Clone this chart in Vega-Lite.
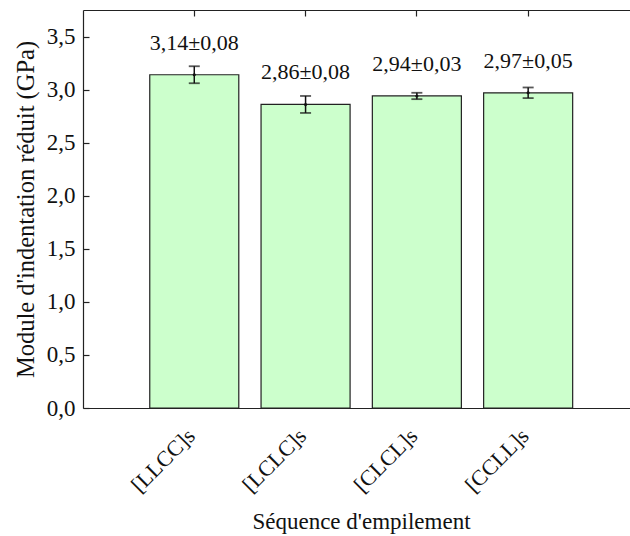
{
  "$schema": "https://vega.github.io/schema/vega-lite/v6.json",
  "autosize": {"type": "none"},
  "padding": {"left": 83, "top": 10, "right": 0, "bottom": 128},
  "width": 547,
  "height": 398,
  "config": {
    "font": "Liberation Serif",
    "view": {"stroke": null},
    "axis": {"domainColor": "#222", "tickColor": "#222", "labelColor": "#111", "titleColor": "#111", "grid": false, "titleFontWeight": "normal", "domainWidth": 1.2, "tickWidth": 1.2, "labelFont": "Liberation Serif", "titleFont": "Liberation Serif"}
  },
  "resolve": {"axis": {"x": "independent", "y": "independent"}},
  "data": {
    "values": [
      {"seq": "[LLCC]s", "val": 3.14, "lo": 3.06, "hi": 3.22, "lbl": "3,14±0,08"},
      {"seq": "[LCLC]s", "val": 2.86, "lo": 2.78, "hi": 2.94, "lbl": "2,86±0,08"},
      {"seq": "[CLCL]s", "val": 2.94, "lo": 2.91, "hi": 2.97, "lbl": "2,94±0,03"},
      {"seq": "[CCLL]s", "val": 2.97, "lo": 2.92, "hi": 3.02, "lbl": "2,97±0,05"}
    ]
  },
  "layer": [
    {
      "mark": {"type": "bar", "fill": "#ccffcc", "stroke": "#222", "strokeWidth": 1.2},
      "encoding": {
        "x": {
          "field": "seq", "type": "nominal", "sort": null,
          "scale": {"paddingInner": 0.2, "paddingOuter": 0.5575, "align": 0.538},
          "axis": {
            "orient": "bottom",
            "title": "Séquence d'empilement", "titleFontSize": 23, "titleX": 278, "titleY": 120, "titleBaseline": "alphabetic", "titleAnchor": null,
            "labelAngle": -45, "labelAlign": "right", "labelBaseline": "middle", "labelFontSize": 22, "labelPadding": 24, "labelOffset": -3,
            "ticks": false
          }
        },
        "y": {
          "field": "val", "type": "quantitative",
          "scale": {"domain": [0, 3.75], "nice": false, "zero": true},
          "axis": {
            "orient": "left",
            "title": "Module d'indentation réduit (GPa)", "titleFontSize": 24.5, "titlePadding": 8,
            "values": [0, 0.5, 1, 1.5, 2, 2.5, 3, 3.5],
            "labelExpr": "replace(format(datum.value, '.1f'), '.', ',')",
            "labelFontSize": 23, "ticks": false, "labelPadding": 8
          }
        }
      }
    },
    {
      "mark": {"type": "rule", "color": "#111", "strokeWidth": 1.5},
      "encoding": {
        "x": {"field": "seq", "type": "nominal", "sort": null, "axis": null},
        "y": {"field": "lo", "type": "quantitative", "axis": null},
        "y2": {"field": "hi"}
      }
    },
    {
      "mark": {"type": "tick", "color": "#111", "size": 11, "thickness": 1.8},
      "encoding": {
        "x": {"field": "seq", "type": "nominal", "sort": null, "axis": null},
        "y": {"field": "lo", "type": "quantitative", "axis": null}
      }
    },
    {
      "mark": {"type": "tick", "color": "#111", "size": 11, "thickness": 1.8},
      "encoding": {
        "x": {"field": "seq", "type": "nominal", "sort": null, "axis": null},
        "y": {"field": "hi", "type": "quantitative", "axis": null}
      }
    },
    {
      "mark": {"type": "point", "filled": true, "color": "#111", "size": 10, "opacity": 1},
      "encoding": {
        "x": {"field": "seq", "type": "nominal", "sort": null, "axis": null},
        "y": {"field": "val", "type": "quantitative", "axis": null}
      }
    },
    {
      "mark": {"type": "text", "font": "Liberation Serif", "fontSize": 22, "color": "#111", "dy": -25, "baseline": "alphabetic"},
      "encoding": {
        "x": {"field": "seq", "type": "nominal", "sort": null, "axis": null},
        "y": {"field": "val", "type": "quantitative", "axis": null},
        "text": {"field": "lbl"}
      }
    },
    {
      "mark": {"type": "point", "opacity": 0},
      "encoding": {
        "x": {
          "field": "seq", "type": "nominal", "sort": null,
          "axis": {"orient": "bottom", "offset": -398, "labels": false, "title": null, "tickSize": 6, "domain": true}
        },
        "y": {
          "field": "val", "type": "quantitative",
          "axis": {"orient": "right", "offset": -547, "labels": false, "title": null, "tickSize": 6, "domain": false, "values": [0, 0.5, 1, 1.5, 2, 2.5, 3, 3.5]}
        }
      }
    }
  ]
}
